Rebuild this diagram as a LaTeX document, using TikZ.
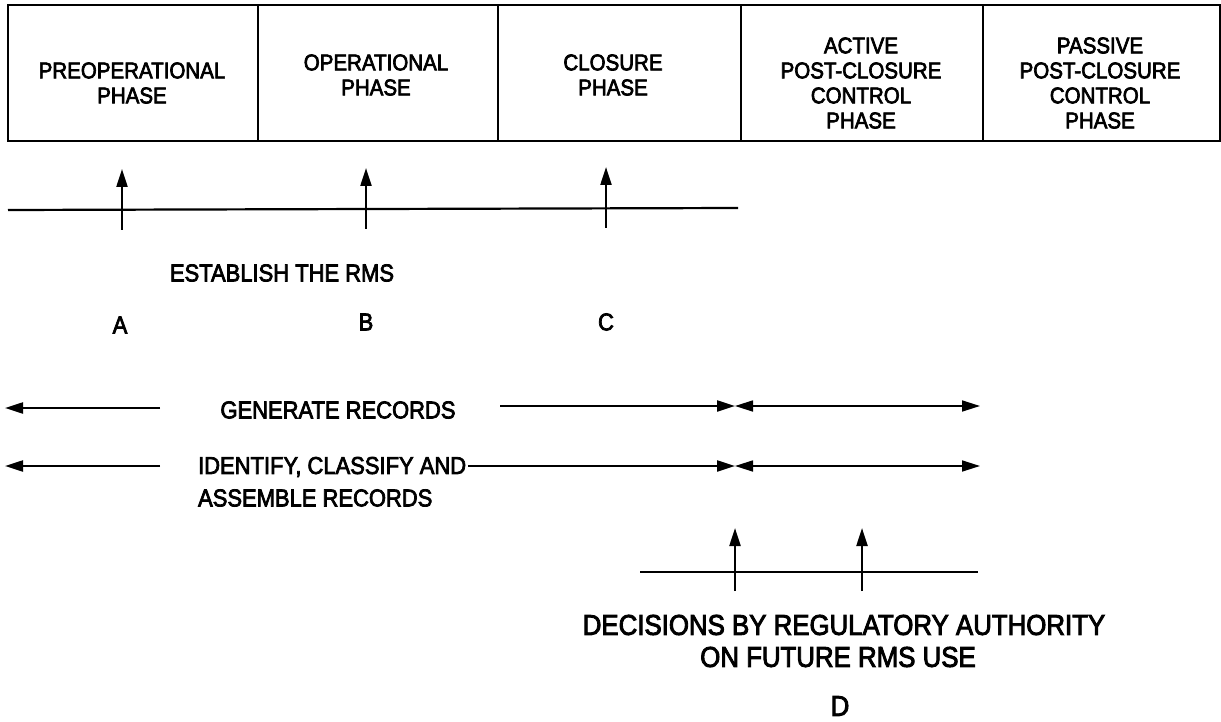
\documentclass[tikz,border=0pt]{standalone}
\usepackage{fontspec}
\setmainfont{Liberation Sans}[FakeStretch=0.9,FakeBold=3]
\usetikzlibrary{arrows.meta}
\begin{document}
\begin{tikzpicture}[x=1pt,y=-1pt,
  line width=2.2pt,
  tip/.style={-{Triangle[length=18pt,width=11pt]}},
  dtip/.style={{Triangle[length=18pt,width=11pt]}-{Triangle[length=18pt,width=11pt]}},
  phasebox/.style={draw,line width=2.2pt,minimum height=136pt,inner sep=0pt,anchor=north west},
  phasetext/.style={align=center,font=\fontsize{22.8}{25}\selectfont},
  lbl/.style={font=\fontsize{24.4}{30}\selectfont,inner sep=0pt},
  biglbl/.style={font=\fontsize{28.7}{32}\selectfont,inner sep=0pt},
]
\useasboundingbox (0,0) rectangle (1221,722);

% phase boxes
\node[phasebox,minimum width=250pt] (b1) at (7,4) {};
\node[phasebox,minimum width=240pt] (b2) at (257,4) {};
\node[phasebox,minimum width=243pt] (b3) at (497,4) {};
\node[phasebox,minimum width=242pt] (b4) at (740,4) {};
\node[phasebox,minimum width=237pt] (b5) at (982,4) {};

\node[phasetext] (t1) at (132,83) {PREOPERATIONAL\\PHASE};
\node[phasetext] (t2) at (376,75) {OPERATIONAL\\PHASE};
\node[phasetext] (t3) at (613,75) {CLOSURE\\PHASE};
\node[phasetext] (t4) at (861,83) {ACTIVE\\POST-CLOSURE\\CONTROL\\PHASE};
\node[phasetext] (t5) at (1100,83) {PASSIVE\\POST-CLOSURE\\CONTROL\\PHASE};

% establishing the RMS
\coordinate (e0) at (8,210);
\coordinate (e1) at (738,208);
\draw (e0) -- (e1);
\coordinate (ea) at (122,230); \coordinate (eat) at (122,169);
\coordinate (eb) at (366,229); \coordinate (ebt) at (366,168);
\coordinate (ec) at (606,228); \coordinate (ect) at (606,167);
\draw[tip] (ea) -- (eat);
\draw[tip] (eb) -- (ebt);
\draw[tip] (ec) -- (ect);
\node[lbl] (est) at (282,273) {ESTABLISH THE RMS};
\node[lbl] (la) at (120,325) {A};
\node[lbl] (lb) at (366,322) {B};
\node[lbl] (lc) at (606,322) {C};

% generate records
\node[lbl] (gen) at (338,410) {GENERATE RECORDS};
\coordinate (g0) at (160,408);
\coordinate (gl) at (5,408);
\coordinate (g1) at (500,406);
\coordinate (gm) at (735,406);
\coordinate (gr) at (980,406);
\draw[tip] (g0) -- (gl);
\draw[tip] (g1) -- (gm);
\draw[dtip,line width=1.7pt] (gm) -- (gr);

% identify, classify and assemble records
\node[lbl,anchor=west] (idf) at (197,467) {IDENTIFY, CLASSIFY AND};
\node[lbl,anchor=west] (asm) at (197,498) {ASSEMBLE RECORDS};
\coordinate (i0) at (160,466);
\coordinate (il) at (5,466);
\coordinate (i1) at (468,466);
\coordinate (im) at (735,466);
\coordinate (ir) at (980,466);
\draw[tip] (i0) -- (il);
\draw[tip] (i1) -- (im);
\draw[dtip,line width=1.7pt] (im) -- (ir);

% decisions on future use
\coordinate (d0) at (640,572);
\coordinate (d1) at (978,572);
\draw (d0) -- (d1);
\coordinate (da) at (735,591); \coordinate (dat) at (735,528);
\coordinate (db) at (862,591); \coordinate (dbt) at (862,528);
\draw[tip] (da) -- (dat);
\draw[tip] (db) -- (dbt);
\node[biglbl] (dec1) at (844,625) {DECISIONS BY REGULATORY AUTHORITY};
\node[biglbl] (dec2) at (838,657) {ON FUTURE RMS USE};
\node[biglbl] (ld) at (840,706) {D};
\end{tikzpicture}
\end{document}
